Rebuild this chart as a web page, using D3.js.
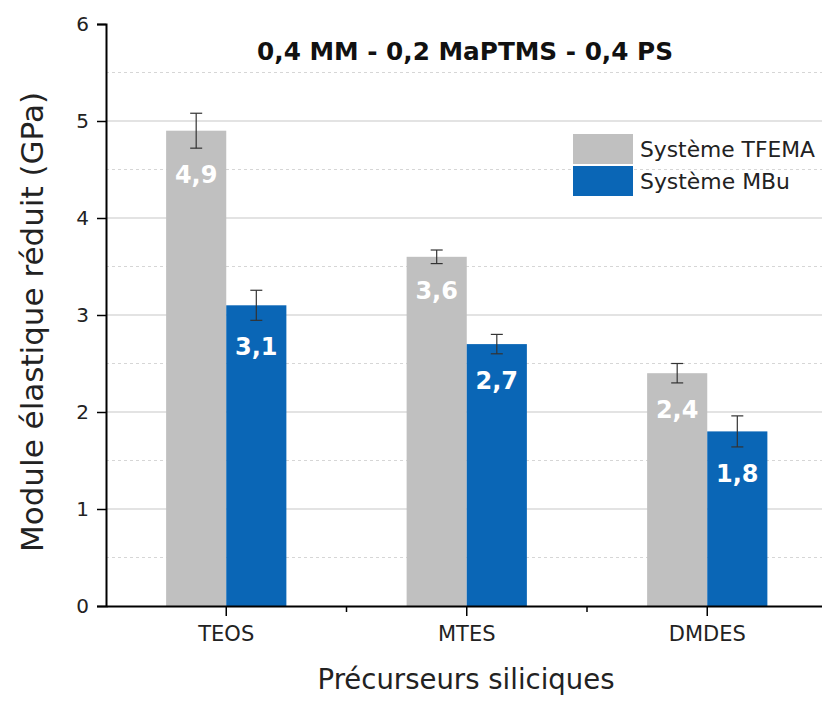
<!DOCTYPE html>
<html><head><meta charset="utf-8">
<script src="https://cdn.jsdelivr.net/npm/d3@7"></script>
<style>body{margin:0;background:#fff}svg{display:block}text{font-family:"DejaVu Sans",sans-serif}</style>
</head><body>
<svg id="c" width="822" height="702"></svg>
<script>
const categories = ["TEOS", "MTES", "DMDES"];
const seriesNames = ["Système TFEMA", "Système MBu"];
const tfemaValues = [4.9, 3.6, 2.4];
const mbuValues = [3.1, 2.7, 1.8];
const tfemaErrors = [0.18, 0.07, 0.1];
const mbuErrors = [0.155, 0.1, 0.16];
const valueLabels = [["4,9", "3,6", "2,4"], ["3,1", "2,7", "1,8"]];
const yTicks = [0, 1, 2, 3, 4, 5, 6];
const yMinor = [0.5, 1.5, 2.5, 3.5, 4.5, 5.5];
const title = "0,4 MM - 0,2 MaPTMS - 0,4 PS";
const xTitle = "Précurseurs siliciques";
const yTitle = "Module élastique réduit (GPa)";
const colors = ["#c0c0c0", "#0a66b6"];

const svg = d3.select("#c");
const L = 106, T = 24, B = 606, R = 827.5;
const y = d3.scaleLinear().domain([0, 6]).range([B, T]);
const x = d3.scaleBand().domain(categories).range([L, R]).padding(0);
const sub = d3.scaleBand().domain([0, 1]).range([x.bandwidth() * 0.25, x.bandwidth() * 0.75]).padding(0);

function fit(sel, w) {
  const fs = parseFloat(sel.attr("font-size"));
  const cur = sel.node().getComputedTextLength();
  sel.attr("font-size", (fs * w / cur).toFixed(2));
  return sel;
}

// grid
svg.append("g").selectAll("line").data(yTicks.filter(d => d > 0 && d < 6)).join("line")
  .attr("x1", L).attr("x2", 822).attr("y1", d => y(d)).attr("y2", d => y(d))
  .attr("stroke", "#c8c8c8").attr("stroke-width", 1.2);
svg.append("g").selectAll("line").data(yMinor).join("line")
  .attr("x1", L).attr("x2", 822).attr("y1", d => y(d)).attr("y2", d => y(d))
  .attr("stroke", "#d6d6d6").attr("stroke-width", 1).attr("stroke-dasharray", "3,3");

const series = [tfemaValues, mbuValues];
const errs = [tfemaErrors, mbuErrors];
const data = [];
series.forEach((vals, s) => vals.forEach((v, i) => data.push({s, i, v, e: errs[s][i], lab: valueLabels[s][i]})));

const bx = d => x(categories[d.i]) + sub(d.s);
svg.append("g").selectAll("rect").data(data).join("rect")
  .attr("x", bx).attr("width", sub.bandwidth())
  .attr("y", d => y(d.v)).attr("height", d => y(0) - y(d.v))
  .attr("fill", d => colors[d.s]);

// error bars
const eg = svg.append("g").attr("stroke", "#333").attr("stroke-width", 1.2);
data.forEach(d => {
  const cx = bx(d) + sub.bandwidth() / 2;
  eg.append("line").attr("x1", cx).attr("x2", cx).attr("y1", y(d.v + d.e)).attr("y2", y(d.v - d.e));
  [d.v + d.e, d.v - d.e].forEach(v => eg.append("line").attr("x1", cx - 6).attr("x2", cx + 6).attr("y1", y(v)).attr("y2", y(v)));
});

// value labels
svg.append("g").selectAll("text").data(data).join("text")
  .attr("x", d => bx(d) + sub.bandwidth() / 2).attr("y", d => y(d.v - d.e) + 35)
  .attr("text-anchor", "middle").attr("fill", "#fff").attr("font-weight", "bold").attr("font-size", 24)
  .text(d => d.lab);

// axes
const ya = svg.append("g").attr("transform", `translate(${L},0)`)
  .call(d3.axisLeft(y).tickValues(yTicks).tickSize(9).tickPadding(8).tickFormat(d3.format("d")));
ya.select(".domain").attr("stroke", "#000").attr("stroke-width", 2);
ya.selectAll(".tick line").attr("stroke", "#000").attr("stroke-width", 1.5);
ya.selectAll("text").attr("font-size", 20).attr("fill", "#222").attr("font-family", "DejaVu Sans");

const xa = svg.append("g").attr("transform", `translate(0,${B})`)
  .call(d3.axisBottom(x).tickSize(10).tickPadding(10).tickSizeOuter(0));
xa.select(".domain").attr("stroke", "#000").attr("stroke-width", 2);
xa.selectAll(".tick line").attr("stroke", "#000").attr("stroke-width", 1.5);
xa.selectAll("text").attr("font-size", 21).attr("fill", "#222").attr("font-family", "Lato");
// minor ticks at category boundaries
svg.append("g").selectAll("line").data(categories.slice(1)).join("line")
  .attr("x1", d => x(d)).attr("x2", d => x(d)).attr("y1", B).attr("y2", B + 6)
  .attr("stroke", "#000").attr("stroke-width", 1.5);

// titles
fit(svg.append("text").attr("x", 465).attr("y", 60).attr("text-anchor", "middle")
  .attr("font-size", 22).attr("font-weight", "bold").attr("fill", "#111").text(title), 416);
fit(svg.append("text").attr("x", 466).attr("y", 689).attr("text-anchor", "middle")
  .attr("font-size", 24).attr("fill", "#222").text(xTitle), 297);
fit(svg.append("text").attr("transform", "translate(43,322) rotate(-90)").attr("text-anchor", "middle")
  .attr("font-size", 24).attr("fill", "#222").text(yTitle), 460);

// legend
const lg = svg.append("g");
seriesNames.forEach((n, i) => {
  lg.append("rect").attr("x", 573).attr("y", 134 + i * 32).attr("width", 60).attr("height", 30).attr("fill", colors[i]);
  fit(lg.append("text").attr("x", 640).attr("y", 157 + i * 32).attr("font-size", 20).attr("fill", "#222").text(n),
      i === 0 ? 175 : 150);
});
</script>
</body></html>
